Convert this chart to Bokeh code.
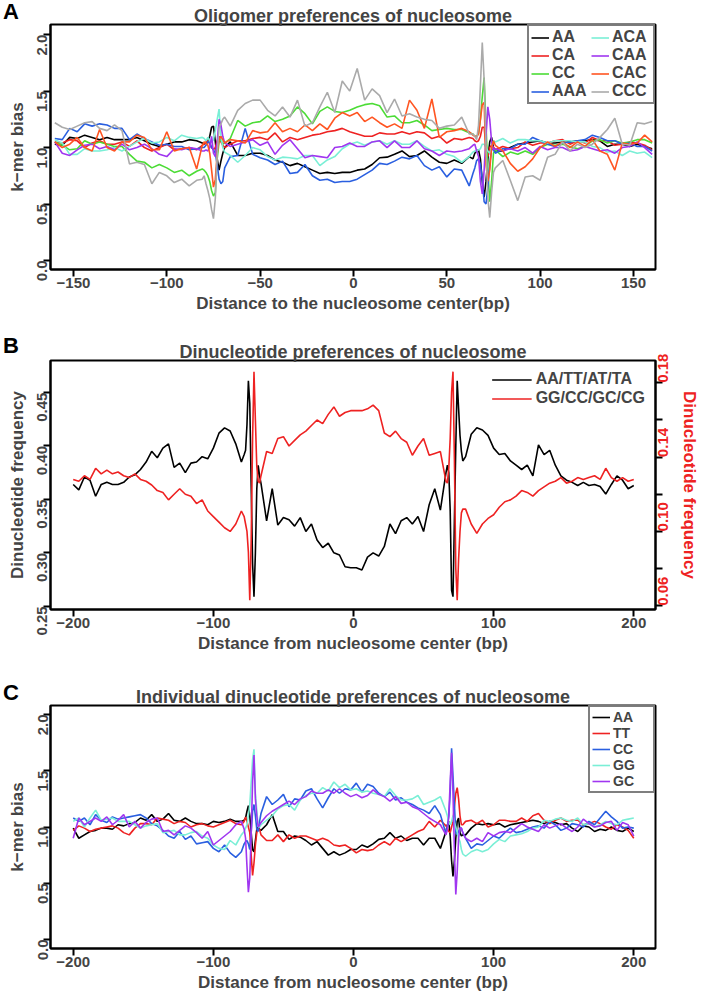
import math
from bokeh.plotting import figure
from bokeh.layouts import column
from bokeh.models import (Range1d, LinearAxis, FixedTicker, CustomJSTickFormatter,
                          PrintfTickFormatter, Legend, LegendItem, Div)
from bokeh.embed import file_html
from bokeh.resources import INLINE

FONT = "Liberation Sans"

# ---------------- Panel A data ----------------
a_x = (list(range(-160, -83, 4)) + list(range(-81, -68)) + list(range(-66, 63, 4))
       + list(range(64, 77)) + list(range(80, 161, 4)))
a_AA = [1.03, 1.02, 1.09, 1.08, 1.11, 1.09, 1.07, 1.09, 1.07, 1.07, 1.07, 1.09, 1.06, 1.03, 1.01, 1.03, 1.05, 1.05, 1.07, 1.06,
        1.04, 1.03, 1.04, 1.06, 1.10, 1.18, 1.19, 1.05, 0.90, 0.80, 0.88, 0.95, 1.00,
        1.05, 0.93, 0.93, 0.95, 0.95, 0.93, 0.89, 0.87, 0.84, 0.86, 0.83, 0.80, 0.77, 0.78, 0.77, 0.78, 0.78,
        0.80, 0.81, 0.85, 0.91, 0.915, 0.94, 0.97, 0.92, 0.93, 0.97, 0.915, 0.87, 0.86, 0.89, 0.86, 0.92,
        0.90, 0.95, 0.97, 0.98, 0.90, 0.70, 0.56, 0.70, 0.90, 1.05, 1.09, 1.00, 0.97,
        0.97, 1.00, 1.03, 1.04, 1.05, 1.06, 1.04, 1.04, 1.05, 1.05, 1.06, 1.06, 1.07, 1.06, 1.01, 1.03, 1.03, 1.01, 1.03, 1.01, 0.99]
a_CA = [1.05, 1.04, 1.07, 1.06, 1.00, 1.04, 1.06, 1.03, 1.03, 1.05, 1.01, 1.06, 1.00, 0.97, 1.00, 1.03, 0.98, 0.99, 1.00, 0.98,
        1.02, 1.03, 1.05, 1.06, 1.03, 1.00, 0.98, 1.00, 1.06, 1.10, 1.05, 1.02, 1.00,
        1.03, 1.06, 1.06, 1.08, 1.09, 1.07, 1.13, 1.05, 1.09, 1.07, 1.09, 1.11, 1.12, 1.14, 1.15, 1.17, 1.14,
        1.12, 1.10, 1.10, 1.13, 1.12, 1.12, 1.14, 1.12, 1.14, 1.13, 1.08, 1.10, 1.04, 1.08, 1.07, 1.09,
        1.08, 1.06, 1.05, 1.06, 1.10, 1.18, 1.18, 1.00, 0.92, 1.00, 1.02, 1.00, 0.98,
        1.01, 0.99, 1.00, 1.05, 1.02, 1.04, 1.04, 1.06, 1.07, 1.03, 1.06, 1.04, 1.09, 1.06, 1.06, 1.02, 1.03, 1.05, 1.04, 1.02, 0.98]
a_CC = [1.05, 1.02, 0.98, 0.99, 1.06, 1.03, 1.05, 1.03, 1.01, 1.01, 0.94, 0.88, 0.87, 0.82, 0.85, 0.82, 0.78, 0.80, 0.75, 0.79,
        0.81, 0.80, 0.78, 0.75, 0.70, 0.62, 0.57, 0.60, 0.90, 1.05, 1.07, 1.03, 1.04,
        1.08, 1.24, 1.19, 1.22, 1.23, 1.28, 1.23, 1.25, 1.28, 1.36, 1.30, 1.21, 1.32, 1.36, 1.32, 1.31, 1.33,
        1.36, 1.38, 1.39, 1.37, 1.27, 1.28, 1.22, 1.22, 1.24, 1.20, 1.15, 1.16, 1.17, 1.16, 1.16, 1.13,
        1.12, 1.10, 1.10, 1.12, 1.25, 1.45, 1.62, 1.20, 0.80, 0.52, 0.70, 0.95, 0.98,
        0.92, 0.96, 0.94, 0.97, 0.94, 1.00, 1.03, 1.02, 1.03, 1.01, 0.99, 1.01, 1.06, 1.07, 1.04, 1.06, 1.04, 1.05, 1.07, 1.07, 1.04]
a_AAA = [1.08, 1.07, 1.17, 1.14, 1.21, 1.19, 1.21, 1.20, 1.17, 1.17, 1.07, 1.12, 1.08, 1.05, 1.02, 1.03, 1.01, 1.01, 0.98, 0.99,
         1.00, 1.00, 1.02, 1.05, 1.05, 1.00, 0.98, 0.95, 0.85, 0.72, 0.68, 0.70, 0.82,
         0.92, 0.93, 1.17, 0.94, 0.91, 0.89, 0.85, 0.88, 0.77, 0.78, 0.85, 0.75, 0.71, 0.72, 0.69, 0.70, 0.70,
         0.72, 0.76, 0.80, 0.86, 0.85, 0.88, 0.915, 0.90, 0.93, 0.84, 0.80, 0.83, 0.74, 0.81, 0.80, 0.66,
         0.77, 0.82, 0.885, 0.90, 0.85, 0.72, 0.52, 0.50, 0.65, 0.85, 0.99, 0.98, 0.95,
         0.99, 0.99, 1.03, 1.03, 1.09, 1.06, 1.03, 1.01, 1.04, 1.05, 1.06, 1.07, 1.11, 1.09, 1.06, 1.06, 1.03, 1.04, 1.01, 1.01, 0.97]
a_ACA = [1.07, 1.04, 0.94, 0.94, 0.99, 0.97, 0.97, 0.98, 1.00, 0.97, 1.01, 1.05, 1.08, 1.04, 1.05, 1.09, 1.06, 1.11, 1.09, 1.08,
         1.09, 1.08, 1.06, 1.09, 1.06, 1.05, 1.07, 1.15, 1.25, 1.34, 1.10, 1.00, 0.96,
         0.93, 0.87, 0.93, 1.00, 0.98, 0.92, 0.89, 0.915, 0.91, 0.90, 0.93, 0.93, 0.84, 0.89, 0.92, 0.99, 1.03,
         1.05, 1.02, 1.05, 1.06, 1.03, 1.06, 1.03, 1.03, 1.06, 1.01, 0.97, 0.98, 0.94, 0.92, 0.87, 0.92,
         0.96, 0.97, 0.97, 0.98, 0.99, 1.03, 1.03, 1.00, 0.97, 0.95, 1.00, 1.06, 1.05,
         1.08, 1.04, 1.07, 1.07, 1.06, 1.06, 1.04, 1.06, 1.06, 1.06, 1.05, 1.05, 1.01, 1.00, 0.96, 0.97, 0.93, 0.97, 0.95, 0.96, 0.91]
a_CAA = [1.05, 0.95, 0.93, 0.98, 1.02, 1.03, 0.99, 1.01, 0.98, 1.03, 0.98, 1.00, 1.03, 0.99, 0.94, 0.92, 0.99, 0.98, 1.00, 0.99,
         0.97, 0.97, 0.98, 0.97, 1.00, 1.10, 0.95, 0.92, 1.05, 1.25, 1.20, 1.10, 1.04,
         1.01, 1.03, 1.05, 1.07, 1.02, 1.05, 0.94, 1.02, 1.07, 0.99, 0.91, 0.93, 0.92, 0.91, 1.00, 1.01, 1.04,
         1.01, 1.01, 1.05, 1.06, 1.00, 1.06, 1.00, 1.00, 1.06, 0.99, 0.97, 0.93, 0.97, 0.96, 0.97, 0.99,
         1.02, 1.03, 0.97, 0.92, 0.70, 0.59, 0.80, 1.10, 1.36, 1.25, 1.05, 0.98, 0.99,
         0.97, 0.99, 0.97, 1.00, 0.95, 1.01, 0.98, 1.00, 1.00, 0.97, 0.98, 1.01, 0.99, 0.97, 0.98, 0.95, 1.00, 1.01, 1.05, 1.00, 0.94]
a_CAC = [1.05, 1.00, 1.03, 1.09, 1.00, 0.97, 1.16, 1.00, 0.97, 1.05, 1.05, 1.11, 1.09, 0.98, 0.98, 1.14, 0.97, 0.99, 1.00, 0.81,
         1.02, 1.05, 1.04, 1.02, 0.95, 0.80, 0.65, 0.72, 0.95, 1.07, 1.10, 1.07, 1.04,
         1.07, 1.06, 1.04, 1.15, 1.13, 1.14, 1.22, 1.14, 1.17, 1.14, 1.20, 1.15, 1.21, 1.16, 1.26, 1.31, 1.28,
         1.31, 1.23, 1.27, 1.22, 1.18, 1.21, 1.17, 1.42, 1.33, 1.17, 1.43, 1.09, 1.14, 1.15, 1.17, 1.14,
         1.11, 1.10, 1.10, 1.12, 1.25, 1.38, 1.40, 0.85, 0.70, 0.80, 1.00, 1.06, 1.02,
         0.97, 0.86, 0.79, 0.83, 0.90, 1.00, 1.05, 1.01, 1.05, 1.00, 1.05, 1.01, 1.07, 0.97, 0.94, 0.80, 1.04, 1.03, 1.04, 1.11, 1.05]
a_CCC = [1.22, 1.18, 1.16, 1.19, 1.22, 1.23, 1.17, 1.15, 1.20, 1.15, 0.855, 0.87, 0.85, 0.68, 0.78, 0.75, 0.69, 0.72, 0.66, 0.71,
         0.72, 0.75, 0.68, 0.62, 0.55, 0.45, 0.37, 0.55, 0.95, 1.18, 1.21, 1.25, 1.27,
         1.19, 1.33, 1.39, 1.42, 1.42, 1.33, 1.28, 1.36, 1.27, 1.42, 1.19, 1.22, 1.36, 1.49, 1.31, 1.59, 1.50,
         1.70, 1.42, 1.52, 1.46, 1.31, 1.43, 1.28, 1.30, 1.27, 1.25, 1.24, 1.17, 1.19, 1.20, 1.27, 1.12,
         1.12, 1.10, 1.07, 1.20, 1.55, 1.93, 1.60, 1.00, 0.55, 0.38, 0.60, 0.78, 0.82,
         0.885, 0.71, 0.53, 0.74, 0.75, 0.71, 0.915, 0.94, 1.05, 0.97, 1.03, 1.00, 1.03, 1.09, 1.16, 1.26, 1.03, 1.02, 1.22, 1.21, 1.23]
a_names = ["AA", "CA", "CC", "AAA", "ACA", "CAA", "CAC", "CCC"]
a_series = [a_AA, a_CA, a_CC, a_AAA, a_ACA, a_CAA, a_CAC, a_CCC]
a_colors = ["#000000", "#ee2222", "#4cdc36", "#2a5fe0", "#7aefd6", "#a036f0", "#ff5522", "#aaaaaa"]

# ---------------- Panel B data ----------------
b_x = (list(range(-200, -79, 4)) + list(range(-78, -65)) + list(range(-62, 63, 4))
       + list(range(66, 79)) + list(range(80, 201, 4)))
b_at = [0.364, 0.359, 0.371, 0.368, 0.353, 0.364, 0.366, 0.364, 0.364, 0.366,
        0.371, 0.373, 0.378, 0.385, 0.395, 0.389, 0.398, 0.402, 0.380, 0.384,
        0.375, 0.384, 0.385, 0.390, 0.388, 0.398, 0.412, 0.417, 0.414, 0.402, 0.385,
        0.392, 0.396, 0.420, 0.461, 0.440, 0.363, 0.290, 0.259, 0.300, 0.360, 0.382, 0.372, 0.365,
        0.330, 0.360, 0.326, 0.333, 0.331, 0.325, 0.333, 0.320, 0.327, 0.312, 0.305, 0.309, 0.300, 0.298, 0.287, 0.286,
        0.286, 0.284, 0.296, 0.300, 0.297, 0.306, 0.327, 0.318, 0.330, 0.333, 0.327, 0.334, 0.320, 0.345, 0.360, 0.340,
        0.375, 0.382, 0.375, 0.340, 0.265, 0.259, 0.330, 0.400, 0.461, 0.435, 0.410, 0.395, 0.386,
        0.390, 0.411, 0.417, 0.415, 0.410, 0.398, 0.392, 0.393, 0.386, 0.382,
        0.378, 0.382, 0.372, 0.401, 0.392, 0.396, 0.382, 0.372, 0.368, 0.366,
        0.363, 0.366, 0.363, 0.364, 0.362, 0.355, 0.364, 0.372, 0.368, 0.360, 0.363]
b_gc = [0.128, 0.127, 0.130, 0.128, 0.134, 0.131, 0.133, 0.131, 0.132, 0.130,
        0.129, 0.131, 0.128, 0.127, 0.125, 0.122, 0.121, 0.117, 0.120, 0.123,
        0.120, 0.119, 0.115, 0.117, 0.111, 0.108, 0.105, 0.102, 0.100, 0.104, 0.111,
        0.108, 0.104, 0.100, 0.089, 0.063, 0.095, 0.150, 0.186, 0.160, 0.135, 0.127, 0.126, 0.130,
        0.143, 0.142, 0.150, 0.151, 0.146, 0.149, 0.152, 0.154, 0.157, 0.160, 0.158, 0.163, 0.167, 0.162, 0.164, 0.165,
        0.165, 0.165, 0.166, 0.168, 0.165, 0.153, 0.151, 0.154, 0.150, 0.148, 0.141, 0.146, 0.150, 0.141, 0.142, 0.143,
        0.127, 0.126, 0.134, 0.150, 0.175, 0.186, 0.139, 0.080, 0.063, 0.085, 0.100, 0.110, 0.112,
        0.112, 0.104, 0.099, 0.104, 0.107, 0.109, 0.113, 0.116, 0.117, 0.119,
        0.122, 0.121, 0.119, 0.122, 0.124, 0.126, 0.127, 0.129, 0.126, 0.127,
        0.129, 0.128, 0.129, 0.130, 0.128, 0.134, 0.129, 0.127, 0.129, 0.127, 0.128]

# ---------------- Panel C data ----------------
c_x = b_x
c_AA = [0.99, 0.90, 0.93, 0.96, 0.97, 0.99, 0.99, 0.98, 1.02, 1.01, 1.03, 1.04, 1.08, 1.06, 1.11, 1.05, 1.07, 1.12, 1.06, 1.05,
        1.08, 1.05, 1.03, 1.03, 1.02, 1.05, 1.04, 1.05, 1.07, 1.05, 1.05,
        1.06, 1.08, 1.14, 1.19, 1.10, 0.95, 0.80, 0.78, 0.88, 0.98, 1.00, 0.98, 0.97,
        1.02, 1.11, 0.96, 0.96, 0.89, 0.92, 0.91, 0.88, 0.84, 0.87, 0.81, 0.75, 0.78, 0.75, 0.77, 0.80,
        0.80, 0.84, 0.82, 0.85, 0.89, 0.90, 0.95, 0.90, 0.92, 0.88, 0.90, 0.90, 0.84, 0.90, 0.90, 0.81,
        0.96, 1.02, 1.05, 0.92, 0.70, 0.56, 0.70, 0.90, 1.05, 1.08, 0.95, 0.92, 0.93,
        0.93, 0.99, 1.03, 1.02, 1.03, 1.02, 1.03, 1.00, 1.02, 1.03, 1.04, 1.05, 1.06, 1.05, 1.03, 1.05, 1.04, 1.02, 1.03, 0.99,
        0.96, 1.01, 1.00, 0.96, 0.98, 0.97, 1.00, 0.97, 0.96, 0.99, 0.96]
c_TT = [0.97, 1.01, 0.99, 0.96, 0.98, 0.99, 1.00, 1.01, 0.99, 0.95, 0.93, 0.99, 1.03, 1.03, 1.02, 1.08, 1.07, 1.06, 1.03, 1.05,
        1.04, 1.00, 1.02, 1.03, 1.01, 1.00, 1.02, 1.04, 1.06, 1.03, 1.02,
        1.05, 1.09, 1.05, 1.00, 0.95, 0.75, 0.57, 0.68, 0.84, 0.95, 0.99, 0.98, 0.93,
        0.88, 0.88, 0.93, 0.87, 0.93, 0.90, 0.92, 0.92, 0.90, 0.88, 0.90, 0.88, 0.84, 0.83, 0.84, 0.81,
        0.77, 0.80, 0.79, 0.80, 0.84, 0.87, 0.84, 0.90, 0.87, 0.90, 0.93, 0.96, 0.98, 1.05, 1.00, 1.06,
        1.01, 0.99, 0.96, 0.95, 1.00, 1.05, 1.18, 1.30, 1.35, 1.25, 1.10, 1.02, 1.02,
        1.05, 1.06, 1.03, 1.06, 1.00, 1.02, 1.06, 1.06, 1.05, 1.05, 1.08, 1.05, 1.10, 1.12, 1.06, 1.03, 1.06, 1.08, 1.05, 1.06,
        1.06, 1.02, 1.03, 1.05, 1.03, 1.00, 0.98, 1.02, 1.00, 0.97, 0.90]
c_CC = [1.08, 1.05, 1.08, 1.02, 1.11, 1.06, 1.04, 1.09, 1.07, 1.08, 1.09, 1.10, 1.11, 1.08, 1.03, 1.01, 0.97, 0.92, 0.90, 0.96,
        0.89, 0.92, 0.85, 0.86, 0.87, 0.81, 0.78, 0.84, 0.77, 0.73, 0.78,
        0.85, 0.87, 0.88, 0.85, 0.80, 0.95, 1.14, 1.20, 1.10, 0.98, 0.96, 1.05, 1.12,
        1.27, 1.20, 1.24, 1.29, 1.18, 1.25, 1.24, 1.32, 1.34, 1.25, 1.17, 1.26, 1.34, 1.30, 1.34, 1.33,
        1.39, 1.31, 1.38, 1.36, 1.30, 1.27, 1.31, 1.24, 1.26, 1.22, 1.20, 1.17, 1.15, 1.12, 1.19, 1.11,
        0.94, 1.00, 1.10, 1.30, 1.70, 1.45, 1.20, 0.95, 0.93, 0.96, 0.99, 0.99, 0.95,
        0.90, 0.81, 0.85, 0.84, 0.88, 0.92, 0.90, 0.95, 0.99, 0.95, 0.96, 0.98, 1.00, 1.01, 0.99, 1.05, 1.02, 0.97, 0.99, 1.03,
        1.02, 1.00, 1.05, 1.02, 1.08, 1.14, 1.09, 1.05, 0.99, 1.00, 0.99]
c_GG = [1.05, 1.08, 1.00, 1.08, 1.15, 1.06, 1.07, 1.08, 1.05, 1.05, 1.05, 1.02, 0.99, 1.01, 1.02, 1.03, 0.95, 0.96, 0.97, 0.93,
        0.93, 0.95, 0.96, 0.92, 0.90, 0.84, 0.81, 0.80, 0.88, 0.84, 0.93,
        0.96, 0.99, 1.02, 1.10, 1.20, 1.40, 1.60, 1.69, 1.30, 1.15, 1.00, 1.00, 1.02,
        1.06, 1.10, 1.16, 1.19, 1.20, 1.15, 1.24, 1.28, 1.30, 1.30, 1.35, 1.32, 1.40, 1.35, 1.38, 1.33,
        1.34, 1.31, 1.32, 1.30, 1.29, 1.27, 1.34, 1.28, 1.24, 1.24, 1.25, 1.28, 1.20, 1.22, 1.24, 1.27,
        1.14, 1.10, 1.04, 1.02, 1.05, 1.10, 1.04, 1.00, 0.95, 0.90, 0.87, 0.80, 0.76,
        0.74, 0.78, 0.80, 0.78, 0.80, 0.85, 0.89, 0.87, 0.92, 0.93, 0.94, 0.96, 0.99, 1.00, 1.06, 1.05, 1.07, 1.08, 1.06, 1.05,
        1.08, 1.02, 1.03, 1.00, 1.02, 1.05, 1.03, 1.02, 1.06, 1.07, 1.08]
c_GC = [0.90, 1.08, 1.02, 1.05, 1.08, 1.05, 1.09, 1.02, 1.06, 1.11, 1.00, 1.05, 0.99, 1.04, 1.07, 1.08, 0.96, 0.97, 0.93, 0.97,
        1.01, 0.99, 0.95, 0.90, 0.96, 0.84, 0.88, 0.92, 0.96, 1.02, 1.05,
        0.98, 0.90, 0.65, 0.42, 0.55, 0.95, 1.40, 1.64, 1.25, 1.10, 1.00, 1.02, 1.04,
        1.10, 1.14, 1.17, 1.20, 1.23, 1.20, 1.25, 1.27, 1.32, 1.30, 1.30, 1.33, 1.30, 1.34, 1.30, 1.27,
        1.29, 1.26, 1.28, 1.33, 1.29, 1.27, 1.23, 1.27, 1.21, 1.22, 1.18, 1.16, 1.12, 1.08, 1.05, 1.02,
        0.93, 0.98, 1.10, 1.40, 1.66, 1.30, 0.80, 0.40, 0.60, 0.90, 0.99, 0.99, 0.95,
        0.90, 0.87, 0.90, 0.87, 0.95, 0.92, 0.95, 0.96, 0.95, 0.99, 1.03, 1.00, 0.98, 0.96, 1.02, 0.99, 1.01, 1.03, 0.99, 0.96,
        1.00, 1.07, 1.03, 1.00, 1.01, 1.04, 1.05, 0.97, 1.04, 1.02, 0.92]
c_names = ["AA", "TT", "CC", "GG", "GC"]
c_series = [c_AA, c_TT, c_CC, c_GG, c_GC]
c_colors = ["#000000", "#ee2222", "#2a5fe0", "#7aefd6", "#a036f0"]

a_xticks = [-150, -100, -50, 0, 50, 100, 150]
bc_xticks = [-200, -100, 0, 100, 200]
ac_yticks = [0.0, 0.5, 1.0, 1.5, 2.0]
b_yticks = [0.25, 0.30, 0.35, 0.40, 0.45]
b_y2ticks = [0.06, 0.08, 0.10, 0.12, 0.14, 0.16, 0.18]

MINUS_FMT = "return tick < 0 ? '\u2212' + Math.abs(tick) : tick.toString();"


def style_axis(ax, vertical=False):
    ax.axis_line_width = 2
    ax.axis_line_color = "black"
    ax.major_tick_line_width = 2
    ax.major_tick_out = 7
    ax.major_tick_in = 0
    ax.minor_tick_out = 0
    ax.minor_tick_in = 0
    ax.major_label_text_font = FONT
    ax.major_label_text_font_style = "bold"
    ax.major_label_text_font_size = "15px"
    ax.major_label_standoff = 1
    ax.axis_label_text_font = FONT
    ax.axis_label_text_font_style = "bold"
    ax.axis_label_text_font_size = "17px"
    ax.axis_label_standoff = 3
    if vertical:
        ax.major_label_orientation = math.pi / 2


def make_fig(height, top, bottom, right, xr, yr, title, xlabel, ylabel, xticks, yticks, yfmt):
    p = figure(width=702, height=height, x_range=xr, y_range=yr,
               output_backend="svg", toolbar_location=None,
               min_border_left=50, min_border_right=right,
               min_border_top=top, min_border_bottom=bottom)
    p.border_fill_alpha = 0
    p.outline_line_color = "black"
    p.outline_line_width = 2
    p.xgrid.visible = False
    p.ygrid.visible = False
    p.title.text = title
    p.title.align = "center"
    p.title.text_font = FONT
    p.title.text_font_style = "bold"
    p.title.text_font_size = "18px"
    p.title.standoff = -3
    p.xaxis.axis_label = xlabel
    p.yaxis.axis_label = ylabel
    p.xaxis.ticker = FixedTicker(ticks=xticks)
    p.xaxis.formatter = CustomJSTickFormatter(code=MINUS_FMT)
    p.yaxis.ticker = FixedTicker(ticks=yticks)
    p.yaxis.formatter = PrintfTickFormatter(format=yfmt)
    style_axis(p.xaxis[0])
    style_axis(p.yaxis[0], vertical=True)
    return p


def letter(text, mtop, h=26):
    return Div(text='<span style="font-family: \'Liberation Sans\', Arial, sans-serif; '
                    'font-size: 22px; font-weight: bold; line-height: 1;">' + text + '</span>',
               width=24, height=h, margin=(mtop, 0, -(h + mtop), 3))


# ---------------- Panel A ----------------
pa = make_fig(336, 24, 67, 46, Range1d(-162.3, 161.8), Range1d(-0.08, 2.09),
              "Oligomer preferences of nucleosome",
              "Distance to the nucleosome center(bp)", "k\u2212mer bias",
              a_xticks, ac_yticks, "%.1f")
a_items = []
for name, ys, col in zip(a_names, a_series, a_colors):
    r = pa.line(a_x, ys, line_color=col, line_width=1.6)
    a_items.append(LegendItem(label=name, renderers=[r]))
leg_a = Legend(items=a_items, location="top_right", nrows=4,
               border_line_color="black", border_line_width=2,
               label_text_font=FONT, label_text_font_style="bold", label_text_font_size="16px",
               glyph_width=18, glyph_height=15, label_height=15, label_width=39, label_standoff=3,
               spacing=0, padding=2, margin=0)
pa.add_layout(leg_a)

# ---------------- Panel B ----------------
pb = make_fig(345, 24, 72, 47, Range1d(-216.2, 215.5), Range1d(0.247, 0.480),
              "Dinucleotide preferences of nucleosome",
              "Distance from nucleosome center (bp)", "Dinucleotide frequency",
              bc_xticks, b_yticks, "%.2f")
pb.extra_y_ranges = {"gc": Range1d(0.058, 0.192)}
r_at = pb.line(b_x, b_at, line_color="#000000", line_width=1.6)
r_gc = pb.line(b_x, b_gc, line_color="#ee2222", line_width=1.6, y_range_name="gc")
ax2 = LinearAxis(y_range_name="gc", axis_label="Dinucleotide frequency",
                 ticker=FixedTicker(ticks=b_y2ticks),
                 formatter=CustomJSTickFormatter(
                     code="const k = Math.round(tick*100); return (k % 4 == 2) ? tick.toFixed(2) : '';"))
style_axis(ax2, vertical=True)
ax2.major_label_text_color = "#ee2222"
ax2.axis_label_text_color = "#ee2222"
pb.add_layout(ax2, "right")
leg_b = Legend(items=[LegendItem(label="AA/TT/AT/TA", renderers=[r_at]),
                      LegendItem(label="GG/CC/GC/CG", renderers=[r_gc])],
               location="top_right", border_line_alpha=0, background_fill_alpha=0,
               label_text_font=FONT, label_text_font_style="bold", label_text_font_size="16px",
               glyph_width=40, glyph_height=17, label_height=17, label_standoff=4,
               spacing=1, padding=4, margin=6)
pb.add_layout(leg_b)

# ---------------- Panel C ----------------
pc = make_fig(315, 24, 48, 46, Range1d(-216.2, 215.5), Range1d(-0.08, 2.08),
              "Individual dinucleotide preferences of nucleosome",
              "Distance from nucleosome center (bp)", "k\u2212mer bias",
              bc_xticks, ac_yticks, "%.1f")
c_items = []
for name, ys, col in zip(c_names, c_series, c_colors):
    r = pc.line(c_x, ys, line_color=col, line_width=1.6)
    c_items.append(LegendItem(label=name, renderers=[r]))
leg_c = Legend(items=c_items, location="top_right",
               border_line_color="black", border_line_width=2,
               label_text_font=FONT, label_text_font_style="bold", label_text_font_size="14px",
               glyph_width=18, glyph_height=14, label_height=14, label_width=38, label_standoff=3,
               spacing=0, padding=2, margin=0)
pc.add_layout(leg_c)

layout = column(letter("A", 1), pa, letter("B", -1), pb, letter("C", 1), pc, spacing=0)
open("out.html", "w").write(file_html(layout, INLINE))
